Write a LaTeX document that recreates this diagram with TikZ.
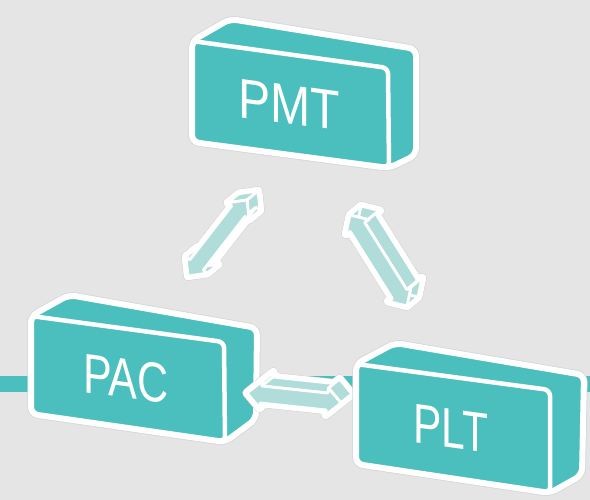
\documentclass[tikz,border=0pt]{standalone}
\usepackage{fontspec}
\setmainfont{Liberation Sans}
\usetikzlibrary{calc}
\definecolor{bgcol}{HTML}{E5E5E5}
\definecolor{tealbox}{HTML}{4BBFBD}
\definecolor{tealarrow}{HTML}{B0DDDA}
\definecolor{shadecol}{HTML}{D5D5D5}

\tikzset{
  boxshadow/.style={draw=shadecol, line width=7.5pt, rounded corners=7pt, line join=round},
  boxbody/.style={fill=tealbox, draw=white, line width=6pt, rounded corners=7pt, line join=round},
  boxfront/.style={draw=white, line width=4.5pt, rounded corners=6pt, line join=round},
  boxlabel/.style={text=white, font=\fontsize{56}{56}\selectfont, inner sep=0pt, anchor=base, transform shape},
  arrowshadow/.style={fill=shadecol, draw=shadecol, line width=9pt, line join=round},
  arrowout/.style={fill=white, draw=white, line width=8pt, line join=round},
  arrowface/.style={fill=tealarrow, draw=white, line width=2.8pt, line join=round},
}

\newcommand\threedbox[1]{%
  \path[boxshadow] (#1d) -- (#1a) -- (#1e) -- (#1f) -- (#1g) -- (#1c) -- cycle;
  \path[boxbody] (#1d) -- (#1a) -- (#1e) -- (#1f) -- (#1g) -- (#1c) -- cycle;
  \path[boxfront] (#1a) -- (#1b) -- (#1c) -- (#1d) -- cycle;
}

% #1 tip one, #2 tip two, #3 prefix
\newcommand\arrowpoints[3]{%
  \coordinate (#3p0) at (#1);
  \coordinate (#3p1) at ($(#1)!14pt!(#2)!13.5pt!90:(#2)$);
  \coordinate (#3p2) at ($(#1)!14pt!(#2)!8.5pt!90:(#2)$);
  \coordinate (#3p3) at ($(#2)!14pt!(#1)!8.5pt!-90:(#1)$);
  \coordinate (#3p4) at ($(#2)!14pt!(#1)!13.5pt!-90:(#1)$);
  \coordinate (#3p5) at (#2);
  \coordinate (#3p6) at ($(#2)!14pt!(#1)!13.5pt!90:(#1)$);
  \coordinate (#3p7) at ($(#2)!14pt!(#1)!8.5pt!90:(#1)$);
  \coordinate (#3p8) at ($(#1)!14pt!(#2)!8.5pt!-90:(#2)$);
  \coordinate (#3p9) at ($(#1)!14pt!(#2)!13.5pt!-90:(#2)$);
  \foreach \k in {0,...,9} {\coordinate (#3q\k) at ([shift={(11,-9)}]#3p\k);}
}

% #1 prefix, #2 style
\newcommand\arrowfaces[2]{%
  \path[#2] (#1q0) -- (#1q1) -- (#1q2) -- (#1q3) -- (#1q4) -- (#1q5) -- (#1q6) -- (#1q7) -- (#1q8) -- (#1q9) -- cycle;
  \foreach \i/\j in {0/1,1/2,2/3,3/4,4/5,5/6,6/7,7/8,8/9,9/0} {
    \path[#2] (#1p\i) -- (#1p\j) -- (#1q\j) -- (#1q\i) -- cycle;
  }
  \path[#2] (#1p0) -- (#1p1) -- (#1p2) -- (#1p3) -- (#1p4) -- (#1p5) -- (#1p6) -- (#1p7) -- (#1p8) -- (#1p9) -- cycle;
}

\newcommand\threedarrow[1]{%
  \arrowfaces{#1}{arrowshadow}
  \arrowfaces{#1}{arrowout}
  \arrowfaces{#1}{arrowface}
}

\begin{document}
\begin{tikzpicture}[x=1pt,y=-1pt]
  \path[use as bounding box, fill=bgcol] (0,0) rectangle (590,500);
  \fill[tealbox] (0,376) rectangle (590,392);

  % box corner coordinates: front face a b c d, back e f g
  \coordinate (pmta) at (192,41);  \coordinate (pmtb) at (388,68);
  \coordinate (pmtc) at (389,168); \coordinate (pmtd) at (192,142);
  \coordinate (pmte) at (230,19);  \coordinate (pmtf) at (416,49);
  \coordinate (pmtg) at (416,155);

  \coordinate (paca) at (31,316);  \coordinate (pacb) at (224,342);
  \coordinate (pacc) at (225,442); \coordinate (pacd) at (31,414);
  \coordinate (pace) at (69,295);  \coordinate (pacf) at (257,328);
  \coordinate (pacg) at (256,419);

  \coordinate (plta) at (356,364); \coordinate (pltb) at (550,390);
  \coordinate (pltc) at (550,493); \coordinate (pltd) at (356,464);
  \coordinate (plte) at (395,343); \coordinate (pltf) at (584,375);
  \coordinate (pltg) at (582,475);

  % arrow tips
  \coordinate (atipone) at (188,276); \coordinate (atiptwo) at (247,200);
  \coordinate (btipone) at (350,215); \coordinate (btiptwo) at (407,306);
  \coordinate (ctipone) at (247,393); \coordinate (ctiptwo) at (341,403);

  \arrowpoints{atipone}{atiptwo}{A}
  \arrowpoints{btipone}{btiptwo}{B}
  \arrowpoints{ctipone}{ctiptwo}{C}

  \threedbox{pac}
  \begin{scope}[cm={0.77,-0.105,0,1,(126,398)}]
    \node[boxlabel] (paclabel) at (0,0) {PAC};
  \end{scope}

  \threedarrow{A}
  \threedarrow{B}
  \threedarrow{C}

  \threedbox{plt}
  \begin{scope}[cm={0.76,-0.103,0,1,(451,448)}]
    \node[boxlabel] (pltlabel) at (0,0) {PLT};
  \end{scope}

  \threedbox{pmt}
  \begin{scope}[cm={0.86,-0.117,0,1,(289,124)}]
    \node[boxlabel] (pmtlabel) at (0,0) {PMT};
  \end{scope}
\end{tikzpicture}
\end{document}
